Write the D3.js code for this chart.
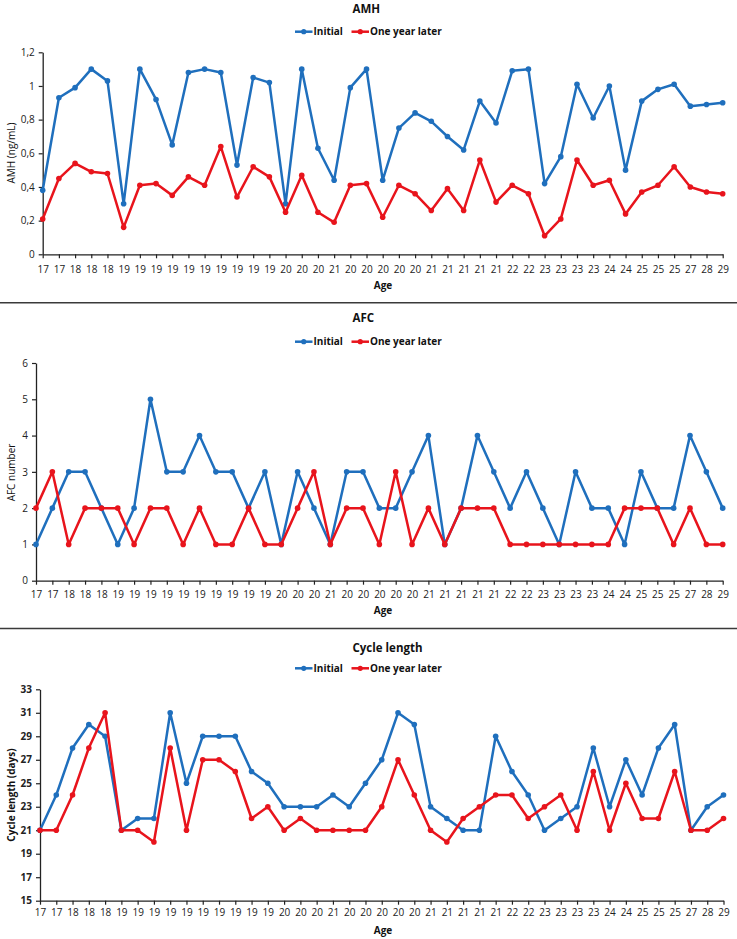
<!DOCTYPE html>
<html>
<head>
<meta charset="utf-8">
<script src="https://cdn.jsdelivr.net/npm/d3@7"></script>
<style>
  html, body { margin: 0; padding: 0; background: #fff; }
  svg { display: block; font-family: "Open Sans", "Noto Sans", sans-serif; }
</style>
</head>
<body>
<svg id="chart" width="737" height="939"></svg>
<script>
// ---------- DATA ----------
const ageLabels = [17,17,18,18,18,19,19,19,19,19,19,19,19,19,19,20,20,20,21,20,20,20,20,20,21,21,21,21,21,22,22,23,23,23,23,24,24,25,25,25,27,28,29];
const seriesNames = ["Initial", "One year later"];

const amhInitial = [0.38,0.93,0.99,1.10,1.03,0.30,1.10,0.92,0.65,1.08,1.10,1.08,0.53,1.05,1.02,0.30,1.10,0.63,0.44,0.99,1.10,
                    0.44,0.75,0.84,0.79,0.70,0.62,0.91,0.78,1.09,1.10,0.42,0.58,1.01,0.81,1.00,0.50,0.91,0.98,1.01,0.88,0.89,0.90];
const amhLater   = [0.21,0.45,0.54,0.49,0.48,0.16,0.41,0.42,0.35,0.46,0.41,0.64,0.34,0.52,0.46,0.25,0.47,0.25,0.19,0.41,0.42,
                    0.22,0.41,0.36,0.26,0.39,0.26,0.56,0.31,0.41,0.36,0.11,0.21,0.56,0.41,0.44,0.24,0.37,0.41,0.52,0.40,0.37,0.36];
const amhTicks = [0, 0.2, 0.4, 0.6, 0.8, 1, 1.2];

const afcInitial = [1,2,3,3,2,1,2,5,3,3,4,3,3,2,3,1,3,2,1,3,3,
                    2,2,3,4,1,2,4,3,2,3,2,1,3,2,2,1,3,2,2,4,3,2];
const afcLater   = [2,3,1,2,2,2,1,2,2,1,2,1,1,2,1,1,2,3,1,2,2,
                    1,3,1,2,1,2,2,2,1,1,1,1,1,1,1,2,2,2,1,2,1,1];
const afcTicks = [0, 1, 2, 3, 4, 5, 6];

const cycleInitial = [21,24,28,30,29,21,22,22,31,25,29,29,29,26,25,23,23,23,24,23,
                      25,27,31,30,23,22,21,21,29,26,24,21,22,23,28,23,27,24,28,30,21,23,24];
const cycleLater   = [21,21,24,28,31,21,21,20,28,21,27,27,26,22,23,21,22,21,21,21,
                      21,23,27,24,21,20,22,23,24,24,22,23,24,21,26,21,25,22,22,26,21,21,22];
const cycleTicks = [15, 17, 19, 21, 23, 25, 27, 29, 31, 33];

// ---------- STYLE / LAYOUT ----------
const colors = ["#1f6fbd", "#e8141c"];
const svg = d3.select("#chart");

const panels = [
  { title: "AMH", yLabel: "AMH (ng/mL)", yBold: false, series: [amhInitial, amhLater], ticks: amhTicks,
    fmt: d => String(+d.toFixed(1)).replace(".", ","),
    x0: 42.7, x1: 722.7, yTop: 52.3, yBot: 254.3, titleY: 8.5, legendY: 31.7, tickLabelY: 269, ageY: 285, yLabelY: 153 },
  { title: "AFC", yLabel: "AFC number", yBold: false, series: [afcInitial, afcLater], ticks: afcTicks,
    fmt: d => String(d),
    x0: 36, x1: 722.7, yTop: 363, yBot: 580.7, titleY: 318.3, legendY: 341.7, tickLabelY: 593.5, ageY: 610, yLabelY: 472.5 },
  { title: "Cycle length", yLabel: "Cycle length (days)", yBold: true, series: [cycleInitial, cycleLater], ticks: cycleTicks,
    fmt: d => String(d),
    x0: 40, x1: 723.5, yTop: 689.3, yBot: 900.7, titleY: 648.3, legendY: 668.3, tickLabelY: 912, ageY: 930, yLabelY: 795 }
];

// separators
[302.7, 628.5].forEach(y => {
  svg.append("line").attr("x1", 0).attr("x2", 737).attr("y1", y).attr("y2", y)
    .attr("stroke", "#3a3a3a").attr("stroke-width", 1.6);
});

panels.forEach(p => {
  const g = svg.append("g");
  const idx = d3.range(ageLabels.length);
  const x = d3.scalePoint().domain(idx).range([p.x0, p.x1]);
  const y = d3.scaleLinear().domain([p.ticks[0], p.ticks[p.ticks.length - 1]]).range([p.yBot, p.yTop]);

  // title
  g.append("text").attr("x", 352.5).attr("y", p.titleY).attr("dy", "0.35em")
    .attr("font-size", 11.5).attr("font-weight", "bold").attr("fill", "#111").text(p.title);

  // legend
  const legendItems = [{ x: 295, name: seriesNames[0], c: colors[0] }, { x: 351.5, name: seriesNames[1], c: colors[1] }];
  legendItems.forEach(li => {
    g.append("line").attr("x1", li.x).attr("x2", li.x + 17.5).attr("y1", p.legendY).attr("y2", p.legendY)
      .attr("stroke", li.c).attr("stroke-width", 2.5);
    g.append("circle").attr("cx", li.x + 8.75).attr("cy", p.legendY).attr("r", 2.6).attr("fill", li.c);
    g.append("text").attr("x", li.x + 18.5).attr("y", p.legendY).attr("dy", "0.35em")
      .attr("font-size", 10).attr("font-weight", "bold").attr("fill", "#111").text(li.name);
  });

  // y axis
  const yAxis = d3.axisLeft(y).tickValues(p.ticks).tickFormat(p.fmt).tickSize(4).tickSizeOuter(0).tickPadding(4);
  const ya = g.append("g").attr("transform", `translate(${p.x0},0)`).call(yAxis);
  ya.select(".domain").attr("stroke", "#222").attr("stroke-width", 1.3);
  ya.selectAll(".tick line").attr("stroke", "#222").attr("stroke-width", 1.2);
  ya.selectAll(".tick text").attr("font-size", 10).attr("fill", "#222")
    .attr("font-weight", p.yBold ? "bold" : "normal").attr("font-family", "'Open Sans', sans-serif");

  // x axis
  const xAxis = d3.axisBottom(x).tickFormat(i => ageLabels[i]).tickSize(4).tickSizeOuter(0).tickPadding(3);
  const xa = g.append("g").attr("transform", `translate(0,${p.yBot})`).call(xAxis);
  xa.select(".domain").attr("stroke", "#222").attr("stroke-width", 1.3);
  xa.selectAll(".tick line").attr("stroke", "#222").attr("stroke-width", 1.2);
  xa.selectAll(".tick text").attr("font-size", 10).attr("fill", "#222")
    .attr("font-family", "'Open Sans', sans-serif").attr("y", null).attr("dy", null)
    .attr("transform", `translate(0,${p.tickLabelY - p.yBot})`).attr("dominant-baseline", "central");

  // axis titles
  g.append("text").attr("x", 383).attr("y", p.ageY).attr("dy", "0.35em").attr("text-anchor", "middle")
    .attr("font-size", 10).attr("font-weight", "bold").attr("fill", "#111").text("Age");
  g.append("text").attr("transform", `translate(11,${p.yLabelY}) rotate(-90)`).attr("dy", "0.35em")
    .attr("text-anchor", "middle").attr("font-size", 10).attr("font-weight", p.yBold ? "bold" : "normal")
    .attr("fill", "#111").text(p.yLabel);

  // series
  const line = d3.line().x((d, i) => x(i)).y(d => y(d));
  p.series.forEach((s, k) => {
    g.append("path").datum(s).attr("d", line).attr("fill", "none")
      .attr("stroke", colors[k]).attr("stroke-width", 2.5).attr("stroke-linejoin", "round");
    g.selectAll(null).data(s).enter().append("circle")
      .attr("cx", (d, i) => x(i)).attr("cy", d => y(d)).attr("r", 2.8).attr("fill", colors[k]);
  });
});
</script>
</body>
</html>
